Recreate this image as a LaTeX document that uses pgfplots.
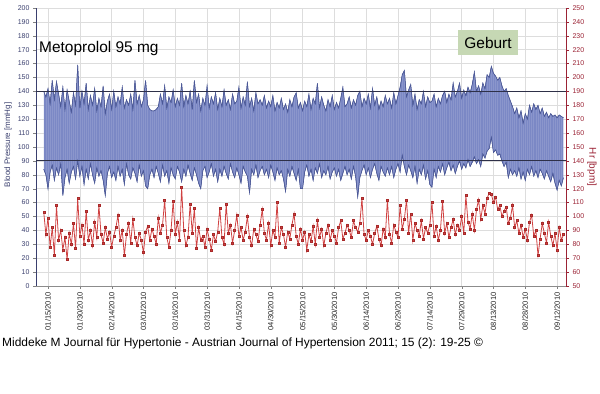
\documentclass[border=0pt]{standalone}
\usepackage{pgfplots}
\pgfplotsset{compat=1.18}
\usepgfplotslibrary{fillbetween}
\usepackage{pgfplotstable}
\usepackage{fontspec}
\setmainfont{Liberation Sans}
\definecolor{bpfill}{HTML}{7B88C5}
\definecolor{bpline}{HTML}{4A5796}
\definecolor{hrline}{HTML}{D04242}
\definecolor{hrmark}{HTML}{A82A2A}
\definecolor{gridc}{HTML}{DDDDDD}
\definecolor{lefttxt}{HTML}{3A3F6E}
\definecolor{righttxt}{HTML}{9B2335}
\definecolor{geburt}{HTML}{C6D8B4}
\definecolor{refline}{HTML}{2E3048}
\pgfplotsset{/pgf/number format/assume math mode=true}

\pgfplotstableread{
day sys dia hr
-2 140 84 103
-1 136 80 87
0 142 70 99
1 131 82 78
2 148 87 92
3 134 76 72
4 147 85 108
5 138 80 83
6 129 88 90
7 143 65 76
8 127 78 85
9 141 84 69
10 133 74 88
11 125 82 80
12 139 86 95
13 130 77 77
14 159 90 113
15 128 79 86
16 140 86 94
17 131 73 80
18 146 84 104
19 127 77 83
20 137 88 90
21 130 80 79
22 142 74 96
23 126 85 85
24 135 79 108
25 129 83 87
26 144 76 81
27 124 65 92
28 133 81 84
29 138 86 89
30 127 78 78
31 140 82 86
32 129 76 92
33 136 86 101
34 131 79 83
35 143 84 90
36 128 73 72
37 134 88 87
38 130 80 95
39 138 77 81
40 127 85 98
41 148 81 85
42 131 75 79
43 137 87 88
44 129 79 83
45 134 83 74
46 148 72 89
47 130 70 93
48 127 80 83
49 126 84 91
50 126 78 86
51 127 86 80
52 129 81 99
53 138 75 88
54 131 87 94
55 144 79 112
56 128 83 85
57 136 74 78
58 132 85 90
59 141 80 111
60 129 77 87
61 135 86 96
62 130 82 83
63 146 75 121
64 129 84 90
65 137 79 79
66 131 87 85
67 140 81 109
68 127 76 88
69 148 85 106
70 132 80 77
71 138 74 92
72 126 70 83
73 135 83 86
74 130 86 78
75 144 78 91
76 128 82 84
77 136 88 76
78 131 79 87
79 139 84 82
80 127 75 89
81 135 84 106
82 129 79 85
83 141 86 80
84 130 81 109
85 134 77 88
86 127 88 94
87 138 82 81
88 131 78 90
89 133 85 101
90 143 80 86
91 128 74 92
92 136 86 83
93 130 82 89
94 147 79 100
95 129 67 85
96 135 84 79
97 126 80 91
98 139 87 87
99 131 78 82
100 134 83 94
101 130 86 105
102 137 80 88
103 128 84 83
104 133 78 95
105 129 87 79
106 137 82 90
107 126 76 85
108 132 85 110
109 128 80 81
110 135 83 92
111 127 77 87
112 131 68 78
113 125 84 89
114 134 79 84
115 129 86 94
116 136 81 102
117 139 76 86
118 128 84 80
119 132 70 91
120 126 70 83
121 133 82 89
122 129 87 76
123 138 79 87
124 127 84 82
125 135 76 93
126 131 85 80
127 146 81 97
128 128 88 85
129 136 78 91
130 130 83 79
131 126 80 88
132 134 86 94
133 129 77 83
134 137 82 90
135 127 85 86
136 132 79 81
137 128 84 92
138 135 76 97
139 143 81 84
140 129 86 88
141 131 80 94
142 136 84 90
143 128 77 85
144 134 86 97
145 130 79 92
146 137 64 89
147 140 78 95
148 129 83 113
149 135 87 87
150 131 80 83
151 138 85 90
152 128 78 86
153 142 84 80
154 130 88 88
155 136 81 93
156 127 76 84
157 133 86 79
158 129 82 91
159 137 79 85
160 131 85 112
161 135 80 87
162 128 86 81
163 139 78 94
164 131 84 89
165 137 88 85
166 143 82 108
167 152 94 91
168 155 86 98
169 136 80 112
170 141 87 88
171 145 83 102
172 130 78 83
173 138 86 95
174 127 74 90
175 134 84 86
176 131 80 97
177 140 87 84
178 129 77 92
179 136 83 88
180 132 73 94
181 133 71 110
182 138 84 86
183 129 78 93
184 135 86 83
185 131 82 90
186 137 88 111
187 140 80 88
188 132 85 95
189 138 89 85
190 134 83 92
191 146 87 98
192 136 81 87
193 140 86 94
194 146 90 90
195 135 84 100
196 141 88 88
197 137 85 115
198 143 91 96
199 139 86 91
200 145 89 102
201 154 93 90
202 140 88 105
203 144 91 112
204 138 86 98
205 146 95 108
206 142 92 102
207 152 97 113
208 150 99 117
209 158 107 116
210 153 96 110
211 151 98 114
212 148 94 105
213 150 95 108
214 144 90 100
215 140 86 104
216 142 89 107
217 137 78 95
218 133 84 99
219 129 80 108
220 124 83 92
221 128 79 97
222 121 85 88
223 126 77 94
224 117 82 85
225 124 76 91
226 120 84 83
227 130 80 96
228 125 86 101
229 131 79 86
230 127 83 90
231 130 78 72
232 124 84 84
233 128 81 95
234 122 77 88
235 125 83 81
236 121 79 96
237 124 75 86
238 122 81 79
239 123 74 88
240 121 69 76
241 123 76 92
242 122 72 83
243 121 78 87
}\bpdata

\begin{document}
\begin{tikzpicture}
\begin{axis}[
  at={(36bp,108bp)}, anchor=south west,
  width=530bp, height=278bp, scale only axis,
  xmin=-5.66, xmax=244.2, ymin=0, ymax=200,
  xtick={0,15,...,240},
  xticklabels={01/15/2010,01/30/2010,02/14/2010,03/01/2010,03/16/2010,03/31/2010,04/15/2010,04/30/2010,05/15/2010,05/30/2010,06/14/2010,06/29/2010,07/14/2010,07/29/2010,08/13/2010,08/28/2010,09/12/2010},
  ytick={0,10,...,200},
  x tick label style={rotate=90, anchor=east, font=\fontsize{7.6}{8}\selectfont, text=black!85},
  y tick label style={font=\fontsize{7}{8}\selectfont, text=lefttxt},
  grid=major, major grid style={draw=gridc, line width=0.5bp},
  axis x line*=bottom, axis y line*=left,
  x axis line style={draw=black!45, -},
  y axis line style={draw=lefttxt, -},
  tick align=outside, major tick length=3bp,
  tick style={draw=black!50},
]
\addplot[name path=sys, draw=bpline, line width=0.5bp] table[x=day, y=sys] {\bpdata};
\addplot[name path=dia, draw=bpline, line width=0.5bp] table[x=day, y=dia] {\bpdata};
\addplot[fill=bpfill] fill between[of=sys and dia];
\addplot[quiver={u=0, v=\thisrow{sys}-\thisrow{dia}}, -, draw=white, opacity=0.12, line width=0.6bp, mark=none]
  table[x=day, y=dia] {\bpdata};
\addplot[draw=bpline, line width=0.5bp] table[x=day, y=sys] {\bpdata};
\addplot[draw=bpline, line width=0.5bp] table[x=day, y=dia] {\bpdata};
\addplot[draw=refline, line width=0.9bp] coordinates {(-5.66,140) (244.2,140)};
\addplot[draw=refline, line width=0.9bp] coordinates {(-5.66,90) (244.2,90)};
\end{axis}
\begin{axis}[
  at={(36bp,108bp)}, anchor=south west,
  width=530bp, height=278bp, scale only axis,
  xmin=-5.66, xmax=244.2, ymin=50, ymax=250,
  ytick={50,60,...,250},
  axis y line*=right, axis x line=none,
  y axis line style={draw=righttxt, -},
  y tick label style={font=\fontsize{7}{8}\selectfont, text=righttxt},
  tick align=outside, major tick length=3bp,
  tick style={draw=righttxt},
]
\addplot[draw=hrline, line width=0.8bp, mark=square*, mark size=1bp,
  mark options={draw=hrmark, fill=hrline, line width=0.4bp}] table[x=day, y=hr] {\bpdata};
\end{axis}
\node[rotate=90, text=lefttxt, font=\fontsize{8}{9}\selectfont] at (8bp,249bp) {Blood Pressure [mmHg]};
\node[rotate=-90, text=righttxt, font=\fontsize{10}{11}\selectfont] at (592bp,227bp) {Hr [bpm]};
\node[anchor=base west, font=\fontsize{15.5}{16}\selectfont, inner sep=0pt] at (39bp,341bp) {Metoprolol 95 mg};
\node[fill=geburt, minimum width=60bp, minimum height=25bp, inner sep=0pt, font=\fontsize{15.5}{16}\selectfont] at (488bp,351.5bp) {Geburt};
\node[anchor=base west, font=\fontsize{12}{13}\selectfont, inner sep=0pt] at (2bp,47bp) {Middeke M Journal für Hypertonie - Austrian Journal of Hypertension 2011; 15 (2): 19-25 ©};
\path (0bp,0bp) rectangle (600bp,394bp);
\end{tikzpicture}
\end{document}
